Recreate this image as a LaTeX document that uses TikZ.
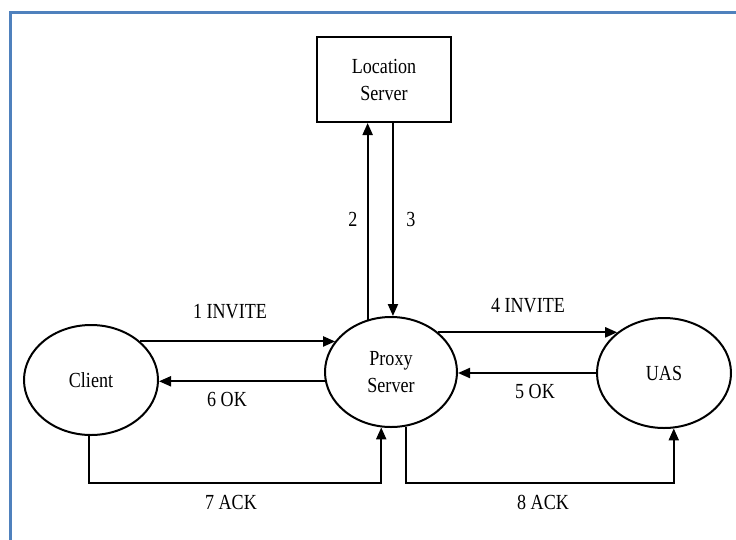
\documentclass[tikz,border=0pt]{standalone}
\usepackage{fontspec}
\setmainfont{Liberation Serif}[FakeStretch=0.84]
\usepackage{tikz}
\usetikzlibrary{shapes,arrows.meta}
\definecolor{frameblue}{RGB}{79,129,189}
\tikzstyle{arrow} = [line width=2pt,-{Triangle[length=12pt,width=10pt]}]
\tikzstyle{entity} = [ellipse,draw,line width=2pt,minimum width=134pt,minimum height=110pt,inner sep=0pt]
\tikzstyle{lbl} = [inner sep=0pt]

\begin{document}
\begin{tikzpicture}[x=1pt,y=-1pt,font=\fontsize{21.5}{27}\selectfont]

        \useasboundingbox (0,0) rectangle (736,539);

        % Blue page frame (only top and left edges visible)
        \draw[frameblue,line width=3pt] (10,545) -- (10,12) -- (745,12);

        % Location Server box
        \node[draw,line width=2pt,minimum width=134pt,minimum height=85pt,align=center] (locsrv) at (384,79.5) {Location\\Server};

        % Client, Proxy Server and UAS ellipses
        \node[entity] (client) at (91,380) {Client};
        \node[entity,minimum width=132pt,align=center] (proxy) at (391,372) {Proxy\\Server};
        \node[entity] (uas) at (664,373) {UAS};

        % Baseline of the two ACK paths
        \coordinate (ackline) at (0,483);

        % Proxy <-> Location Server
        \draw[arrow] (proxy.114) -- (proxy.114 |- locsrv.south);          % 2
        \draw[arrow] (proxy.88 |- locsrv.south) -- (proxy.88);            % 3

        % Client <-> Proxy
        \draw[arrow] (client.38) -- (client.38 -| proxy.151.5);           % 1 INVITE
        \draw[arrow] (proxy.188) -- (proxy.188 -| client.east);           % 6 OK

        % Proxy <-> UAS
        \draw[arrow] (proxy.40) -- (proxy.40 -| uas.139);                 % 4 INVITE
        \draw[arrow] (uas.west) -- (uas.west -| proxy.east);              % 5 OK

        % ACK paths below
        \draw[arrow] (client.268) -- (client.268 |- ackline) -| (proxy.260);   % 7 ACK
        \draw[arrow] (proxy.285) -- (proxy.285 |- ackline) -| (uas.280);       % 8 ACK

        % Message labels
        \node[lbl] (l2) at (353,219) {2};
        \node[lbl] (l3) at (411,219) {3};
        \node[lbl] (l1) at (230,312) {1 INVITE};
        \node[lbl] (l6) at (227,399) {6 OK};
        \node[lbl] (l4) at (528,306) {4 INVITE};
        \node[lbl] (l5) at (535,391) {5 OK};
        \node[lbl] (l7) at (231,502) {7 ACK};
        \node[lbl] (l8) at (543,502) {8 ACK};

\end{tikzpicture}
\end{document}
